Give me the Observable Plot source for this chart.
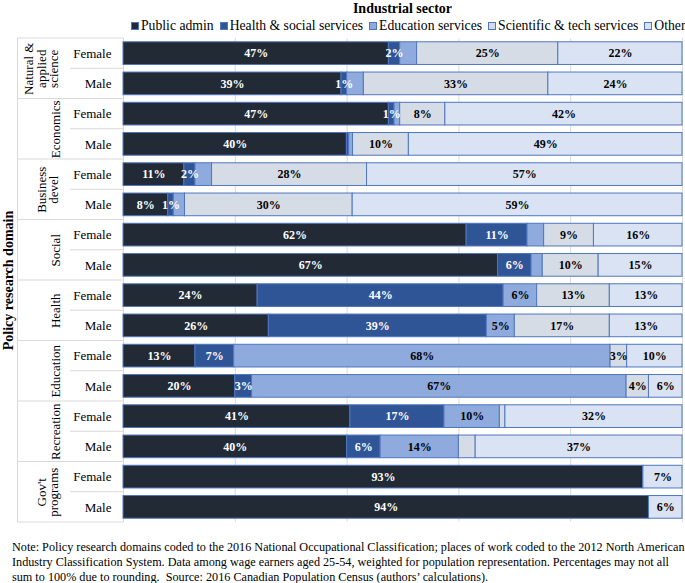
<!DOCTYPE html>
<html><head><meta charset="utf-8">
<script src="https://cdn.jsdelivr.net/npm/d3@7"></script>
<script src="https://cdn.jsdelivr.net/npm/@observablehq/plot@0.6"></script>
<style>
body{margin:0;background:#fff;font-family:"Liberation Serif","Times New Roman",serif;color:#000;}
#wrap{position:relative;width:685px;height:583px;overflow:hidden;background:#fff;}
#title{position:absolute;top:1px;left:123px;width:559px;text-align:center;font-weight:bold;font-size:14px;line-height:16px;}
#legend{position:absolute;top:18px;left:131px;display:flex;align-items:center;font-size:13.7px;line-height:16px;white-space:nowrap;}
#legend .item{display:flex;align-items:center;margin-right:6px;}
#legend .sw{width:6px;height:6px;border:1px solid #4f76c0;margin-right:2px;}
#chart{position:absolute;top:0;left:0;}
#note{position:absolute;top:540px;left:12px;font-size:12.2px;line-height:15px;white-space:nowrap;}
</style></head>
<body><div id="wrap">
<div id="chart"></div>
<div id="title">Industrial sector</div>
<div id="legend"></div>
<div id="note">Note: Policy research domains coded to the 2016 National Occupational Classification; places of work coded to the 2012 North American<br>Industry Classification System. Data among wage earners aged 25-54, weighted for population representation. Percentages may not all<br>sum to 100% due to rounding.&nbsp; Source: 2016 Canadian Population Census (authors’ calculations).</div>
</div>
<script>
// ---- data ----
const domains = ["Natural & applied science", "Economics", "Business devel", "Social", "Health", "Education", "Recreation", "Gov't programs"];
const domainLines = [["Natural &", "applied", "science"], ["Economics"], ["Business", "devel"], ["Social"], ["Health"], ["Education"], ["Recreation"], ["Gov't", "programs"]];
const sexes = ["Female", "Male"];
const sectors = ["Public admin", "Health & social services", "Education services", "Scientific & tech services", "Other"];
const colors = ["#222a35", "#2f5597", "#8faadc", "#d6dce5", "#dae3f3"];

// rows: NAS F, NAS M, Econ F, Econ M, Bus F, Bus M, Soc F, Soc M, Health F, Health M, Edu F, Edu M, Rec F, Rec M, Gov F, Gov M
const publicAdmin    = [47, 39, 47, 40, 11, 8, 62, 67, 24, 26, 13, 20, 41, 40, 93, 94];
const healthSocial   = [2, 1, 1, 0.4, 2, 1, 11, 6, 44, 39, 7, 3, 17, 6, 0, 0];
const educationSvc   = [3, 3, 1, 0.7, 3, 2, 3, 2, 6, 5, 68, 67, 10, 14, 0, 0];
const scientificTech = [25, 33, 8, 10, 28, 30, 9, 10, 13, 17, 3, 4, 1, 3, 0, 0];
const other          = [22, 24, 42, 49, 57, 59, 16, 15, 13, 13, 10, 6, 32, 37, 7, 6];

// which segment labels are printed
const labelPublic = [1,1,1,1,1,1,1,1,1,1,1,1,1,1,1,1];
const labelHealth = [1,1,1,0,1,1,1,1,1,1,1,1,1,1,0,0];
const labelEdu    = [0,0,0,0,0,0,0,0,1,1,1,1,1,1,0,0];
const labelSci    = [1,1,1,1,1,1,1,1,1,1,1,1,0,0,0,0];
const labelOther  = [1,1,1,1,1,1,1,1,1,1,1,1,1,1,1,1];

const series = [publicAdmin, healthSocial, educationSvc, scientificTech, other];
const labels = [labelPublic, labelHealth, labelEdu, labelSci, labelOther];
const darkSectors = new Set(["Public admin", "Health & social services"]);

const keys = domains.flatMap(d => sexes.map(s => d + "|" + s));
const rows = [];
domains.forEach((d, i) => sexes.forEach((s, j) => {
  const r = i * 2 + j;
  sectors.forEach((sec, k) => rows.push({key: d + "|" + s, domain: d, sex: s, sector: sec, value: series[k][r], show: labels[k][r] === 1}));
}));

// ---- layout ----
const W = 685, H = 530, MT = 38, MB = 8, ML = 123, MR = 3;
const stepPx = (H - MT - MB) / keys.length;
const fmt = v => Math.round(v) + "%";
const BORDER = "#4f76c0";
const GRID = "#d9d9d9";
const FONT = "Liberation Serif";

// legend
const lg = document.getElementById("legend");
sectors.forEach((s, i) => {
  const it = document.createElement("div"); it.className = "item";
  const sw = document.createElement("div"); sw.className = "sw"; sw.style.background = colors[i];
  const tx = document.createElement("span"); tx.textContent = s;
  it.appendChild(sw); it.appendChild(tx); lg.appendChild(it);
});

function leftPanel(index, scales) {
  const y = scales.y;
  const bw = y.bandwidth ? y.bandwidth() : stepPx * 0.75;
  const step = y.step ? y.step() : stepPx;
  const pad = (step - bw) / 2;
  const g = d3.create("svg:g").attr("stroke", GRID).attr("stroke-width", 1).attr("fill", "none");
  const top = y(keys[0]) - pad;
  const bottom = y(keys[keys.length - 1]) + bw + pad;
  g.append("line").attr("x1", 17.5).attr("x2", 17.5).attr("y1", top).attr("y2", bottom);
  domains.forEach(d => {
    const t = y(d + "|Female") - pad;
    g.append("line").attr("x1", 17).attr("x2", ML).attr("y1", t).attr("y2", t);
    g.append("line").attr("x1", 70).attr("x2", ML).attr("y1", t + step).attr("y2", t + step);
  });
  g.append("line").attr("x1", 17).attr("x2", ML).attr("y1", bottom).attr("y2", bottom);
  return g.node();
}

const stackOpts = {x: "value", y: "key", z: "sector", order: sectors, offset: "normalize", filter: d => d.value > 0};

const chart = Plot.plot({
  width: W, height: H,
  marginTop: MT, marginBottom: MB, marginLeft: ML, marginRight: MR,
  style: "font-family: 'Liberation Serif', 'Times New Roman', serif; font-size: 13px; background: transparent; color: #000; overflow: visible;",
  x: {domain: [0, 1], axis: null},
  y: {domain: keys, axis: null, paddingInner: 0.25, paddingOuter: 0.125, round: false},
  color: {domain: sectors, range: colors},
  marks: [
    Plot.ruleX([0, 0.2, 0.4, 0.6, 0.8, 1], {stroke: GRID, strokeOpacity: 1, strokeWidth: 1}),
    leftPanel,
    Plot.barX(rows, Plot.stackX({...stackOpts, fill: "sector", stroke: BORDER, strokeWidth: 1})),
    Plot.text(rows, Plot.stackX({...stackOpts, text: d => d.show && darkSectors.has(d.sector) ? fmt(d.value) : null, fill: "white", fontWeight: "bold", fontSize: 12, fontFamily: FONT})),
    Plot.text(rows, Plot.stackX({...stackOpts, text: d => d.show && !darkSectors.has(d.sector) ? fmt(d.value) : null, fill: "black", fontWeight: "bold", fontSize: 12, fontFamily: FONT})),
    Plot.text(keys, {y: d => d, text: d => d.split("|")[1], frameAnchor: "left", textAnchor: "end", dx: -12, fontSize: 13, fontFamily: FONT, fill: "black"}),
    Plot.text(domains.filter((d, i) => domainLines[i].length > 1), {y: d => d + "|Female", text: d => domainLines[domains.indexOf(d)].join("\n"), frameAnchor: "left", textAnchor: "middle", rotate: -90, lineAnchor: "bottom", lineHeight: 0.95, dx: -65.5, dy: stepPx / 2, fontSize: 13, fontFamily: FONT, fill: "black"}),
    Plot.text(domains.filter((d, i) => domainLines[i].length === 1), {y: d => d + "|Female", text: d => d, frameAnchor: "left", textAnchor: "middle", rotate: -90, lineAnchor: "middle", dx: -68, dy: stepPx / 2, fontSize: 13, fontFamily: FONT, fill: "black"}),
    Plot.text(["Policy research domain"], {frameAnchor: "left", textAnchor: "middle", lineAnchor: "middle", dx: -115, rotate: -90, fontWeight: "bold", fontSize: 14, fontFamily: FONT, fill: "black"})
  ]
});
document.getElementById("chart").appendChild(chart);
</script>
</body></html>
